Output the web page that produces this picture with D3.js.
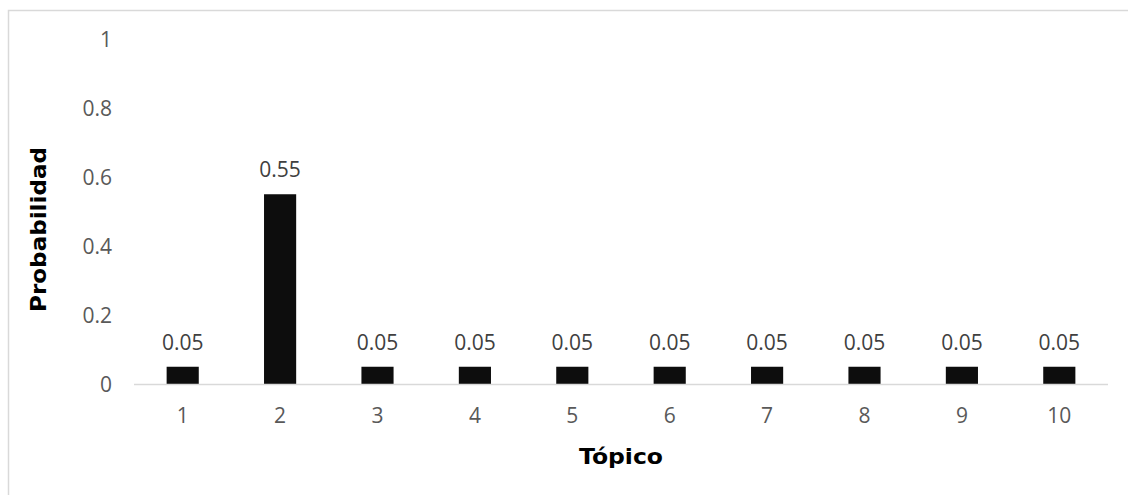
<!DOCTYPE html>
<html>
<head>
<meta charset="utf-8">
<script src="https://cdn.jsdelivr.net/npm/d3@7"></script>
<style>
  html, body { margin: 0; padding: 0; background: #fff; }
  svg { display: block; }
</style>
</head>
<body>
<svg id="chart" width="1128" height="495"></svg>
<script>
const categories = ["1", "2", "3", "4", "5", "6", "7", "8", "9", "10"];
const values = [0.05, 0.55, 0.05, 0.05, 0.05, 0.05, 0.05, 0.05, 0.05, 0.05];
const yTicks = [0, 0.2, 0.4, 0.6, 0.8, 1];
const xTitle = "Tópico";
const yTitle = "Probabilidad";

const svg = d3.select("#chart");
const W = 1128, H = 495;
const m = { left: 134, right: 1108, top: 39, bottom: 384 };

// outer chart border (only top/left visible in the reference)
svg.append("rect")
  .attr("x", 8.5).attr("y", 10.5)
  .attr("width", W + 20).attr("height", H + 20)
  .attr("fill", "none").attr("stroke", "#d9d9d9").attr("stroke-width", 1.5);

const x = d3.scaleBand().domain(categories).range([m.left, m.right]).paddingInner(0.67).paddingOuter(0.335);
const y = d3.scaleLinear().domain([0, 1]).range([m.bottom, m.top]);

const font = "'Open Sans', sans-serif";

// y tick labels
const yAxis = d3.axisLeft(y).tickValues(yTicks).tickSize(0).tickPadding(0)
  .tickFormat(d => d3.format("")(+d.toFixed(1)));
const gy = svg.append("g").attr("transform", `translate(${112},0)`).call(yAxis);
gy.select(".domain").remove();
gy.selectAll("text").attr("font-family", font).attr("font-size", 21).attr("fill", "#595959").attr("dy", "0.36em");

// x axis
const xAxis = d3.axisBottom(x).tickSize(0).tickPadding(0);
const gx = svg.append("g").attr("transform", `translate(0,${m.bottom})`).call(xAxis);
gx.select(".domain").remove();
gx.selectAll("text").attr("font-family", font).attr("font-size", 21).attr("fill", "#595959")
  .attr("y", 39).attr("dy", 0);

// bars
svg.append("g").selectAll("rect").data(values).join("rect")
  .attr("x", (d, i) => x(categories[i]))
  .attr("width", x.bandwidth())
  .attr("y", d => y(d))
  .attr("height", d => y(0) - y(d))
  .attr("fill", "#0d0d0d");

// axis baseline
svg.append("line")
  .attr("x1", m.left).attr("x2", m.right)
  .attr("y1", y(0) + 0.5).attr("y2", y(0) + 0.5)
  .attr("stroke", "#d9d9d9").attr("stroke-width", 1.5);

// value labels
svg.append("g").selectAll("text").data(values).join("text")
  .attr("x", (d, i) => x(categories[i]) + x.bandwidth() / 2)
  .attr("y", d => y(d) - 17)
  .attr("text-anchor", "middle")
  .attr("font-family", font).attr("font-size", 21).attr("fill", "#404040")
  .text(d => d);

// axis titles
svg.append("text")
  .attr("x", (m.left + m.right) / 2).attr("y", 464)
  .attr("text-anchor", "middle")
  .attr("font-family", "'DejaVu Sans', sans-serif").attr("font-weight", "bold").attr("font-size", 22)
  .attr("fill", "#000")
  .attr("textLength", 84).attr("lengthAdjust", "spacingAndGlyphs")
  .text(xTitle);

svg.append("text")
  .attr("transform", `translate(46,229.5) rotate(-90)`)
  .attr("text-anchor", "middle")
  .attr("font-family", "'DejaVu Sans', sans-serif").attr("font-weight", "bold").attr("font-size", 22)
  .attr("fill", "#000")
  .attr("textLength", 165).attr("lengthAdjust", "spacingAndGlyphs")
  .text(yTitle);
</script>
</body>
</html>
